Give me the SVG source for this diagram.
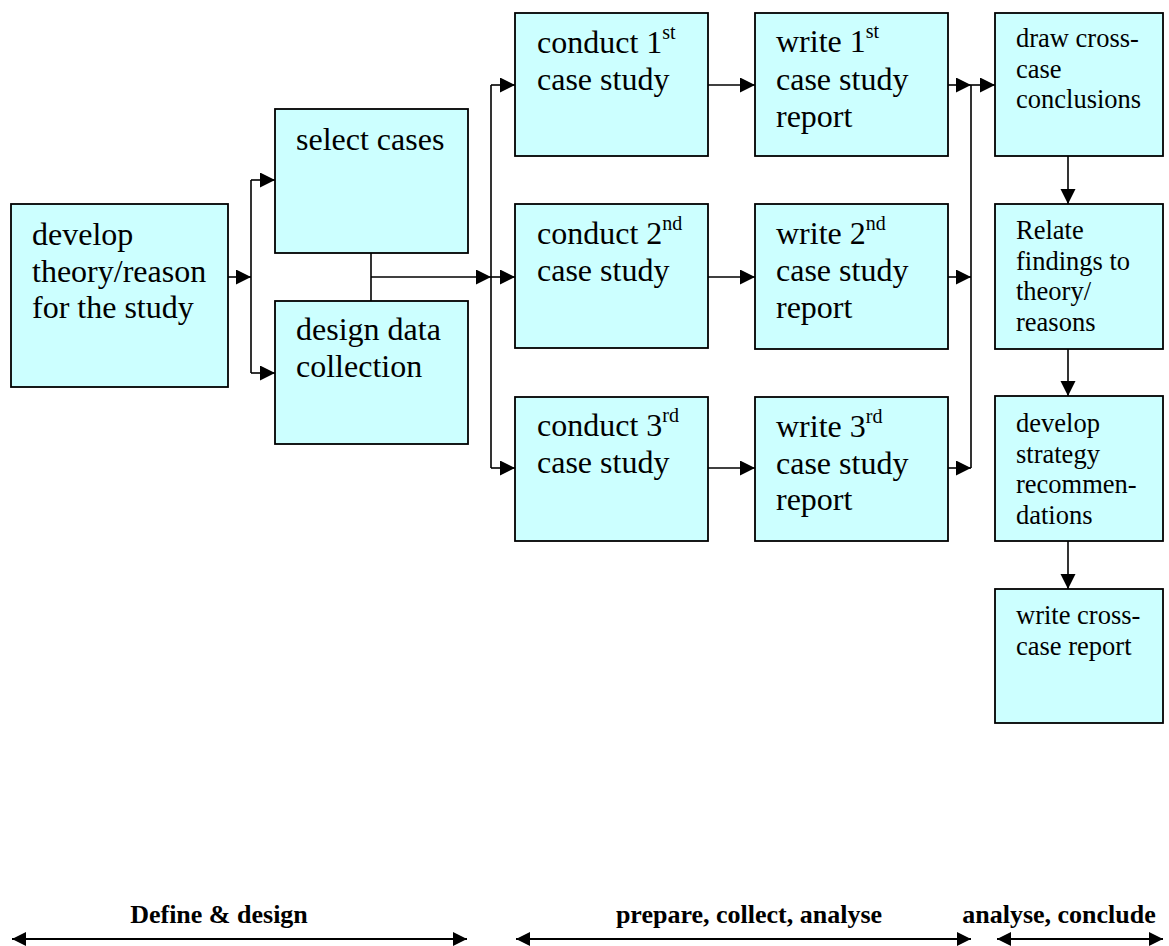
<svg xmlns="http://www.w3.org/2000/svg" width="1169" height="946" viewBox="0 0 1169 946">
  <style>
    .box { fill: #CCFFFF; stroke: #000; stroke-width: 1.8; }
    .t { font-family: "Liberation Serif", "Times New Roman", serif; font-size: 32px; fill: #000; }
    .ts { font-family: "Liberation Serif", "Times New Roman", serif; font-size: 26.5px; fill: #000; }
    .sup { font-size: 20px; }
    .phase { font-family: "Liberation Serif", "Times New Roman", serif; font-size: 26px; font-weight: bold; fill: #000; text-anchor: middle; }
    .ln { fill: none; stroke: #000; stroke-width: 1.6; }
    .arr { fill: none; stroke: #000; stroke-width: 1.6; marker-end: url(#ah); }
    .span { fill: none; stroke: #000; stroke-width: 2; marker-start: url(#ah2); marker-end: url(#ah2); }
  </style>
  <defs>
    <marker id="ah" markerUnits="userSpaceOnUse" markerWidth="16" markerHeight="16" refX="15" refY="7.5" orient="auto">
      <path d="M0,0 L15,7.5 L0,15 Z" fill="#000"/>
    </marker>
    <marker id="ah2" markerUnits="userSpaceOnUse" markerWidth="16" markerHeight="16" refX="14" refY="7" orient="auto-start-reverse">
      <path d="M0,0 L14,7 L0,14 Z" fill="#000"/>
    </marker>
  </defs>

  <rect width="1169" height="946" fill="#fff"/>

  <!-- connectors -->
  <g id="connectors">
    <!-- develop theory to select / design -->
    <line class="arr" x1="228" y1="277" x2="251" y2="277"/>
    <line class="ln" x1="251" y1="180" x2="251" y2="373"/>
    <line class="arr" x1="251" y1="180" x2="275" y2="180"/>
    <line class="arr" x1="251" y1="373" x2="275" y2="373"/>
    <!-- select / design joined, out to case studies -->
    <line class="ln" x1="371" y1="253" x2="371" y2="301"/>
    <line class="arr" x1="371" y1="277" x2="491" y2="277"/>
    <line class="ln" x1="491" y1="85" x2="491" y2="468"/>
    <line class="arr" x1="491" y1="85" x2="515" y2="85"/>
    <line class="arr" x1="491" y1="277" x2="515" y2="277"/>
    <line class="arr" x1="491" y1="468" x2="515" y2="468"/>
    <!-- conduct to write -->
    <line class="arr" x1="708" y1="85" x2="755" y2="85"/>
    <line class="arr" x1="708" y1="277" x2="755" y2="277"/>
    <line class="arr" x1="708" y1="468" x2="755" y2="468"/>
    <!-- reports collected into cross-case analysis -->
    <line class="arr" x1="948" y1="85" x2="971" y2="85"/>
    <line class="arr" x1="948" y1="277" x2="971" y2="277"/>
    <line class="arr" x1="948" y1="468" x2="971" y2="468"/>
    <line class="ln" x1="971" y1="85" x2="971" y2="468"/>
    <line class="arr" x1="971" y1="85" x2="995" y2="85"/>
    <!-- right column chain -->
    <line class="arr" x1="1068" y1="156" x2="1068" y2="204"/>
    <line class="arr" x1="1068" y1="349" x2="1068" y2="396"/>
    <line class="arr" x1="1068" y1="541" x2="1068" y2="589"/>
  </g>

  <!-- nodes -->
  <g id="develop-theory">
    <rect class="box" x="11" y="204" width="217" height="183"/>
    <text class="t" x="32" y="245">develop</text>
    <text class="t" x="32" y="281.5">theory/reason</text>
    <text class="t" x="32" y="318">for the study</text>
  </g>
  <g id="select-cases">
    <rect class="box" x="275" y="109" width="193" height="144"/>
    <text class="t" x="296" y="150">select cases</text>
  </g>
  <g id="design-data">
    <rect class="box" x="275" y="301" width="193" height="143"/>
    <text class="t" x="296" y="340">design data</text>
    <text class="t" x="296" y="377">collection</text>
  </g>

  <g id="conduct-1">
    <rect class="box" x="515" y="13" width="193" height="143"/>
    <text class="t" x="537" y="53">conduct 1<tspan class="sup" dy="-14">st</tspan></text>
    <text class="t" x="537" y="90">case study</text>
  </g>
  <g id="conduct-2">
    <rect class="box" x="515" y="204" width="193" height="144"/>
    <text class="t" x="537" y="244">conduct 2<tspan class="sup" dy="-14">nd</tspan></text>
    <text class="t" x="537" y="281">case study</text>
  </g>
  <g id="conduct-3">
    <rect class="box" x="515" y="397" width="193" height="144"/>
    <text class="t" x="537" y="436">conduct 3<tspan class="sup" dy="-14">rd</tspan></text>
    <text class="t" x="537" y="473">case study</text>
  </g>

  <g id="write-1">
    <rect class="box" x="755" y="13" width="193" height="143"/>
    <text class="t" x="776" y="52">write 1<tspan class="sup" dy="-14">st</tspan></text>
    <text class="t" x="776" y="90">case study</text>
    <text class="t" x="776" y="127">report</text>
  </g>
  <g id="write-2">
    <rect class="box" x="755" y="204" width="193" height="145"/>
    <text class="t" x="776" y="244">write 2<tspan class="sup" dy="-14">nd</tspan></text>
    <text class="t" x="776" y="281">case study</text>
    <text class="t" x="776" y="318">report</text>
  </g>
  <g id="write-3">
    <rect class="box" x="755" y="397" width="193" height="144"/>
    <text class="t" x="776" y="437">write 3<tspan class="sup" dy="-14">rd</tspan></text>
    <text class="t" x="776" y="474">case study</text>
    <text class="t" x="776" y="510">report</text>
  </g>

  <g id="draw-conclusions">
    <rect class="box" x="995" y="13" width="168" height="143"/>
    <text class="ts" x="1016" y="47">draw cross-</text>
    <text class="ts" x="1016" y="77.5">case</text>
    <text class="ts" x="1016" y="108">conclusions</text>
  </g>
  <g id="relate-findings">
    <rect class="box" x="995" y="204" width="168" height="145"/>
    <text class="ts" x="1016" y="239">Relate</text>
    <text class="ts" x="1016" y="269.5">findings to</text>
    <text class="ts" x="1016" y="300">theory/</text>
    <text class="ts" x="1016" y="330.5">reasons</text>
  </g>
  <g id="develop-strategy">
    <rect class="box" x="995" y="396" width="168" height="145"/>
    <text class="ts" x="1016" y="432">develop</text>
    <text class="ts" x="1016" y="462.5">strategy</text>
    <text class="ts" x="1016" y="493">recommen-</text>
    <text class="ts" x="1016" y="523.5">dations</text>
  </g>
  <g id="write-cross-case">
    <rect class="box" x="995" y="589" width="168" height="134"/>
    <text class="ts" x="1016" y="624">write cross-</text>
    <text class="ts" x="1016" y="654.5">case report</text>
  </g>

  <!-- phase spans along the bottom -->
  <g id="phase-define">
    <line class="span" x1="12" y1="939" x2="467" y2="939"/>
    <text class="phase" x="219" y="923">Define &amp; design</text>
  </g>
  <g id="phase-prepare">
    <line class="span" x1="516" y1="939" x2="971" y2="939"/>
    <text class="phase" x="749" y="923">prepare, collect, analyse</text>
  </g>
  <g id="phase-conclude">
    <line class="span" x1="997" y1="939" x2="1163" y2="939"/>
    <text class="phase" x="1059" y="923">analyse, conclude</text>
  </g>
</svg>
